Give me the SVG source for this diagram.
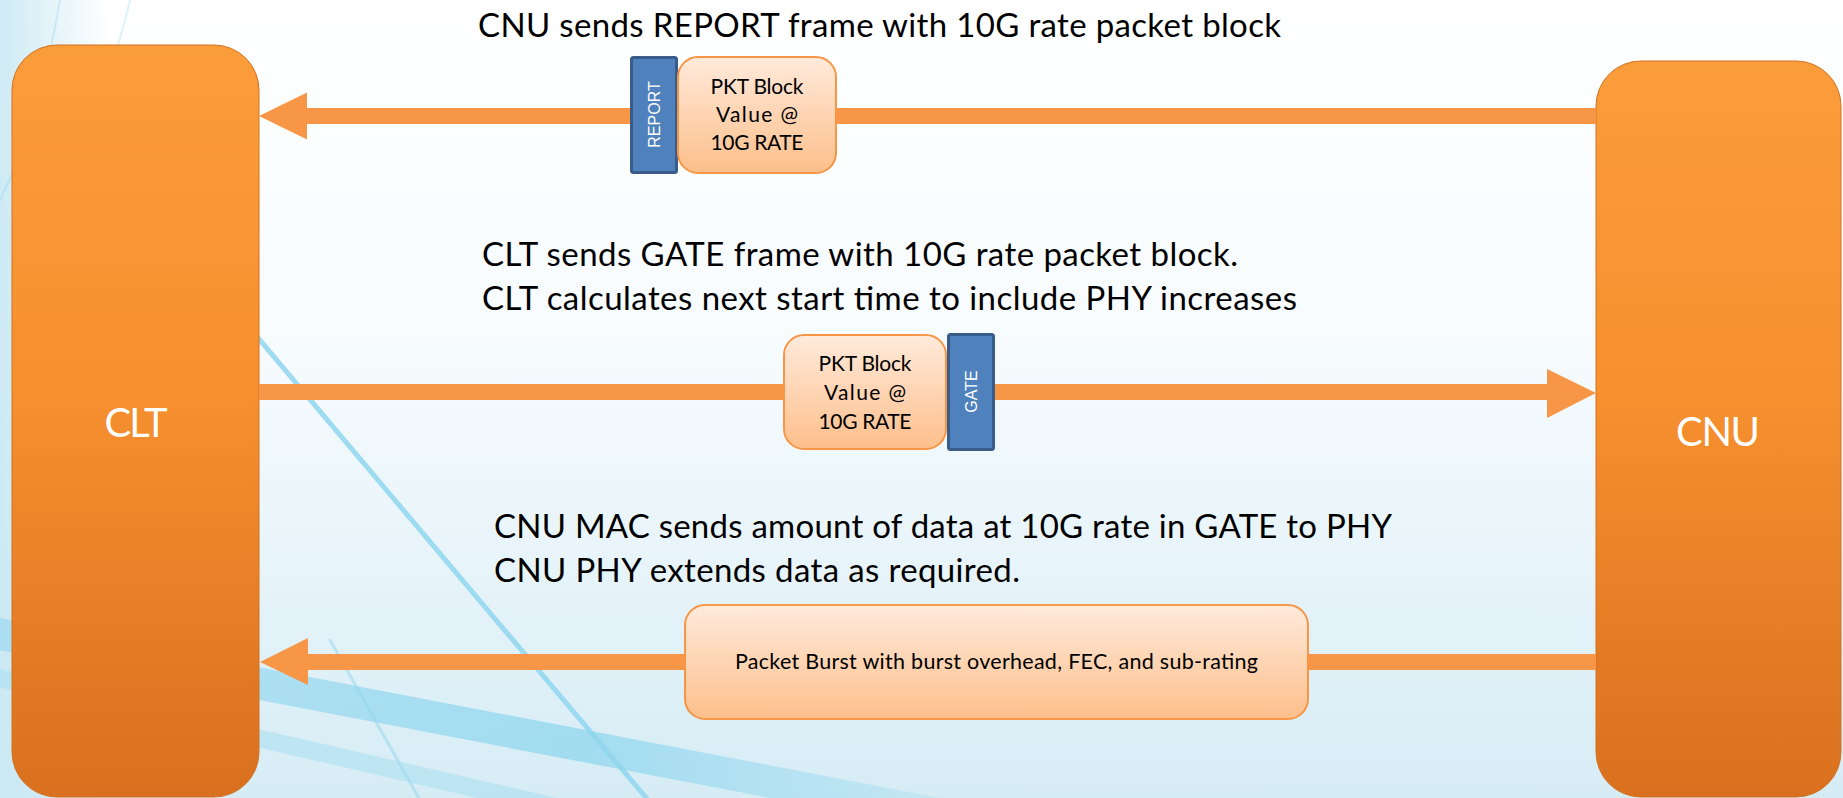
<svg xmlns="http://www.w3.org/2000/svg" width="1843" height="798" viewBox="0 0 1843 798">
  <defs>
    <linearGradient id="bgGrad" x1="0" y1="0" x2="0" y2="1">
      <stop offset="0" stop-color="#ffffff"/>
      <stop offset="0.45" stop-color="#f6fbfd"/>
      <stop offset="1" stop-color="#d6ecf5"/>
    </linearGradient>
    <linearGradient id="bgLeft" x1="0" y1="0" x2="1" y2="0">
      <stop offset="0" stop-color="#c9e8f3" stop-opacity="0.9"/>
      <stop offset="1" stop-color="#c9e8f3" stop-opacity="0"/>
    </linearGradient>
    <linearGradient id="nodeGrad" x1="0" y1="0" x2="0" y2="1">
      <stop offset="0" stop-color="#fb9c3b"/>
      <stop offset="0.45" stop-color="#f7902f"/>
      <stop offset="1" stop-color="#d8701f"/>
    </linearGradient>
    <linearGradient id="boxGrad" x1="0" y1="0" x2="0" y2="1">
      <stop offset="0" stop-color="#ffeadb"/>
      <stop offset="1" stop-color="#fdbf8b"/>
    </linearGradient>
    <linearGradient id="bandGrad" x1="0" y1="0" x2="1" y2="0">
      <stop offset="0" stop-color="#8fd6ee" stop-opacity="0.55"/>
      <stop offset="0.6" stop-color="#8fd6ee" stop-opacity="0.75"/>
      <stop offset="1" stop-color="#8fd6ee" stop-opacity="0.2"/>
    </linearGradient>
    <style>
      .txt { font-family: "Lato", "Liberation Sans", sans-serif; fill: #000000; }
      .main { font-size: 33px; }
      .small { font-size: 21px; text-anchor: middle; }
      .node { fill: url(#nodeGrad); stroke: #d27323; stroke-width: 1; }
      .nodelabel { font-family: "Lato", "Liberation Sans", sans-serif; font-size: 40px; fill: #ffffff; text-anchor: middle; }
      .arrow { fill: #f79646; }
      .pkt { fill: url(#boxGrad); stroke: #f79646; stroke-width: 2; }
      .frame { fill: #4f81bd; stroke: #385d8a; stroke-width: 3; }
      .framelabel { font-family: "Liberation Sans", Arial, sans-serif; font-size: 16px; fill: #ffffff; text-anchor: middle; }
      .streak { fill: none; stroke: #8fd6ee; stroke-linecap: round; }
    </style>
  </defs>

  <g id="background">
    <rect x="0" y="0" width="1843" height="798" fill="url(#bgGrad)"/>
    <rect x="0" y="0" width="110" height="798" fill="url(#bgLeft)"/>
    <path class="streak" d="M 60 0 Q 40 120 0 200" stroke-width="2" opacity="0.35"/>
    <path class="streak" d="M 130 0 Q 110 90 60 170" stroke-width="2" opacity="0.3"/>
    <line class="streak" x1="150" y1="210" x2="648" y2="800" stroke-width="5" opacity="0.85"/>
    <line class="streak" x1="330" y1="640" x2="420" y2="800" stroke-width="3" opacity="0.5"/>
    <line x1="-10" y1="632" x2="980" y2="822" stroke="url(#bandGrad)" stroke-width="32"/>
    <line x1="-10" y1="676" x2="560" y2="808" stroke="#9edcf0" stroke-width="18" opacity="0.45"/>
  </g>

  <g id="node-clt">
    <rect class="node" x="12" y="45" width="247" height="752" rx="45" ry="45"/>
    <text class="nodelabel" x="136" y="437" textLength="63">CLT</text>
  </g>

  <g id="node-cnu">
    <rect class="node" x="1596" y="61" width="245" height="736" rx="45" ry="45"/>
    <text class="nodelabel" x="1718" y="446" textLength="84">CNU</text>
  </g>

  <g id="connectors">
    <path class="arrow" d="M 259 116 L 307 92.5 L 307 108 L 1596 108 L 1596 124 L 307 124 L 307 139.5 Z"/>
    <path class="arrow" d="M 1596 393 L 1547 369 L 1547 384 L 259 384 L 259 400 L 1547 400 L 1547 418 Z"/>
    <path class="arrow" d="M 260 662 L 308 638 L 308 654 L 1596 654 L 1596 670 L 308 670 L 308 685 Z"/>
  </g>

  <g id="node-report">
    <rect class="frame" x="631.5" y="57.5" width="45" height="115" rx="2"/>
    <text class="framelabel" transform="translate(654 114.5) rotate(-90)" x="0" y="5.7">REPORT</text>
  </g>

  <g id="node-pkt1">
    <rect class="pkt" x="678" y="57" width="158" height="116" rx="20" ry="20"/>
    <text class="txt small" x="757" y="94" textLength="93">PKT Block</text>
    <text class="txt small" x="757" y="122" textLength="82">Value @</text>
    <text class="txt small" x="757" y="150" textLength="93">10G RATE</text>
  </g>

  <g id="node-pkt2">
    <rect class="pkt" x="784" y="335" width="162" height="114" rx="20" ry="20"/>
    <text class="txt small" x="865" y="371" textLength="93">PKT Block</text>
    <text class="txt small" x="865" y="400" textLength="82">Value @</text>
    <text class="txt small" x="865" y="429" textLength="93">10G RATE</text>
  </g>

  <g id="node-gate">
    <rect class="frame" x="948.5" y="334.5" width="45" height="115" rx="2"/>
    <text class="framelabel" transform="translate(971 391.5) rotate(-90)" x="0" y="5.7">GATE</text>
  </g>

  <g id="node-burst">
    <rect class="pkt" x="685" y="605" width="623" height="114" rx="20" ry="20"/>
    <text class="txt" x="996.5" y="669" font-size="21.5" text-anchor="middle" textLength="523">Packet Burst with burst overhead, FEC, and sub-rating</text>
  </g>

  <g id="labels">
    <text class="txt main" x="478" y="37" textLength="803">CNU sends REPORT frame with 10G rate packet block</text>
    <text class="txt main" x="482" y="266" textLength="756">CLT sends GATE frame with 10G rate packet block.</text>
    <text class="txt main" x="482" y="310" textLength="815">CLT calculates next start time to include PHY increases</text>
    <text class="txt main" x="494" y="538" textLength="898">CNU MAC sends amount of data at 10G rate in GATE to PHY</text>
    <text class="txt main" x="494" y="582" textLength="526">CNU PHY extends data as required.</text>
  </g>
</svg>
